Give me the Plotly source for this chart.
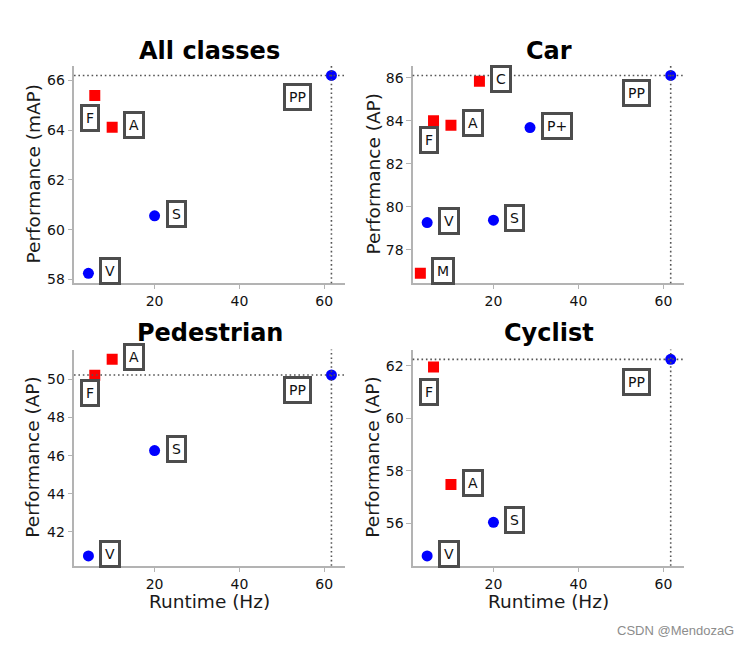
import plotly.graph_objects as go
from plotly.subplots import make_subplots

# ---------------- data ----------------
panels = ["All classes", "Car", "Pedestrian", "Cyclist"]
y_titles = ["Performance (mAP)", "Performance (AP)", "Performance (AP)", "Performance (AP)"]
x_title = "Runtime (Hz)"

methods = ["M", "V", "F", "A", "C", "S", "P+", "PP"]
runtime_hz = {"M": 2.8, "V": 4.4, "F": 5.9, "A": 10.0, "C": 16.7, "S": 20.0, "P+": 28.6, "PP": 61.7}
fusion = {"M": True, "V": False, "F": True, "A": True, "C": True, "S": False, "P+": False, "PP": False}

perf_all = {"V": 58.25, "S": 60.56, "F": 65.39, "A": 64.11, "PP": 66.19}
perf_car = {"M": 76.90, "V": 79.26, "S": 79.37, "F": 84.00, "A": 83.79, "C": 85.83, "P+": 83.68, "PP": 86.10}
perf_ped = {"V": 40.74, "S": 46.27, "F": 50.22, "A": 51.05, "PP": 50.23}
perf_cyc = {"V": 54.76, "S": 56.04, "F": 61.96, "A": 57.48, "PP": 62.25}
perf = [perf_all, perf_car, perf_ped, perf_cyc]

x_ticks = [20, 40, 60]

# ---------------- layout / style ----------------
W, H = 751, 650
# plot areas in pixels (left, right, top, bottom)
boxes = [(74, 345, 66, 285), (412.7, 684.3, 66, 285),
         (74, 345, 351.7, 569.3), (412.7, 684.3, 351.7, 569.3)]
x_range = [1.0, 64.9]
title_baseline = [61.7, 61.7, 345, 345]
ytitle_x = [33, 373, 33, 373]
# pixel offsets for F and PP labels (below the point)
f_drop = [23, 19.3, 17.7, 24.6]
pp_drop = [21.6, 17.4, 15.0, 22.3]

FONT = "DejaVu Sans"
SPINE = "#b3b3b3"
BOXC = "#4d4d4d"

fig = make_subplots(rows=2, cols=2)

annotations = []
shapes = []
for i, name in enumerate(panels):
    r, c = i // 2 + 1, i % 2 + 1
    l, rr, t, b = boxes[i]
    d = perf[i]
    keys = [m for m in methods if m in d]
    ax_id = "" if i == 0 else str(i + 1)
    xa, ya = "x" + ax_id, "y" + ax_id

    for is_fus, sym, col in [(True, "square", "#ff0000"), (False, "circle", "#0000ff")]:
        ks = [k for k in keys if fusion[k] == is_fus]
        fig.add_trace(go.Scatter(
            x=[runtime_hz[k] for k in ks], y=[d[k] for k in ks],
            mode="markers",
            marker=dict(symbol=sym, color=col, size=11, line=dict(width=0)),
            showlegend=False, hoverinfo="skip"), row=r, col=c)

    vals = list(d.values())
    lo, hi = min(vals), max(vals)
    pad = 0.05 * (hi - lo)
    fig.update_xaxes(domain=[l / W, rr / W], range=x_range, tickvals=x_ticks,
                     row=r, col=c)
    fig.update_yaxes(domain=[1 - b / H, 1 - t / H], range=[lo - pad, hi + pad], dtick=2,
                     row=r, col=c)

    # dotted reference lines through PP
    shapes.append(dict(type="line", xref=xa + " domain", yref=ya, x0=0, x1=1,
                       y0=d["PP"], y1=d["PP"],
                       line=dict(color="#555555", width=1.6, dash="1.6px,2.8px")))
    shapes.append(dict(type="line", xref=xa, yref=ya + " domain", x0=runtime_hz["PP"],
                       x1=runtime_hz["PP"], y0=0, y1=1,
                       line=dict(color="#555555", width=1.6, dash="1.6px,2.8px")))

    # labels
    for k in keys:
        a = dict(x=runtime_hz[k], y=d[k], xref=xa, yref=ya, text=k, showarrow=False,
                 font=dict(family=FONT, size=14, color="#111111"),
                 bgcolor="white", bordercolor=BOXC, borderwidth=3, borderpad=3)
        if k == "F":
            a.update(xanchor="center", yanchor="middle", xshift=-5, yshift=-f_drop[i])
        elif k == "PP":
            a.update(xanchor="center", yanchor="middle", xshift=-34, yshift=-pp_drop[i])
        else:
            a.update(xanchor="left", yanchor="middle", xshift=11, yshift=2)
        annotations.append(a)

    # subplot title
    annotations.append(dict(x=(l + rr) / 2 / W, y=1 - title_baseline[i] / H, xref="paper",
                            yref="paper", text="<b>%s</b>" % name, showarrow=False,
                            xanchor="center", yanchor="bottom", yshift=-6,
                            font=dict(family=FONT, size=24, color="black")))
    # y title
    annotations.append(dict(x=ytitle_x[i] / W, y=1 - (t + b) / 2 / H, xref="paper",
                            yref="paper", text=y_titles[i], showarrow=False, textangle=-90,
                            xanchor="center", yanchor="middle",
                            font=dict(family=FONT, size=18.5, color="#1a1a1a")))
    if r == 2:
        annotations.append(dict(x=(l + rr) / 2 / W, y=1 - 605 / H, xref="paper",
                                yref="paper", text=x_title, showarrow=False,
                                xanchor="center", yanchor="middle",
                                font=dict(family=FONT, size=18.5, color="#1a1a1a")))

annotations.append(dict(x=736 / W, y=1 - 634 / H, xref="paper", yref="paper",
                        text="CSDN @MendozaG", showarrow=False, xanchor="right",
                        yanchor="middle",
                        font=dict(family="Liberation Sans", size=13, color="#8c8c8c")))

fig.update_xaxes(showline=True, linecolor=SPINE, linewidth=1.5, mirror=False,
                 showgrid=False, zeroline=False, ticks="outside", ticklen=4.5,
                 tickwidth=1.3, tickcolor=SPINE,
                 tickfont=dict(family=FONT, size=14, color="#111111"))
fig.update_yaxes(showline=True, linecolor=SPINE, linewidth=1.5, mirror=False,
                 showgrid=False, zeroline=False, ticks="outside", ticklen=4.5,
                 tickwidth=1.3, tickcolor=SPINE,
                 tickfont=dict(family=FONT, size=14, color="#111111"))

fig.update_layout(width=W, height=H, margin=dict(l=0, r=0, t=0, b=0),
                  paper_bgcolor="white", plot_bgcolor="white",
                  annotations=annotations, shapes=shapes, showlegend=False)

fig.write_html("out.html", config={"displayModeBar": False},
               post_script="document.body.style.margin='0px';document.body.style.overflow='hidden';")
